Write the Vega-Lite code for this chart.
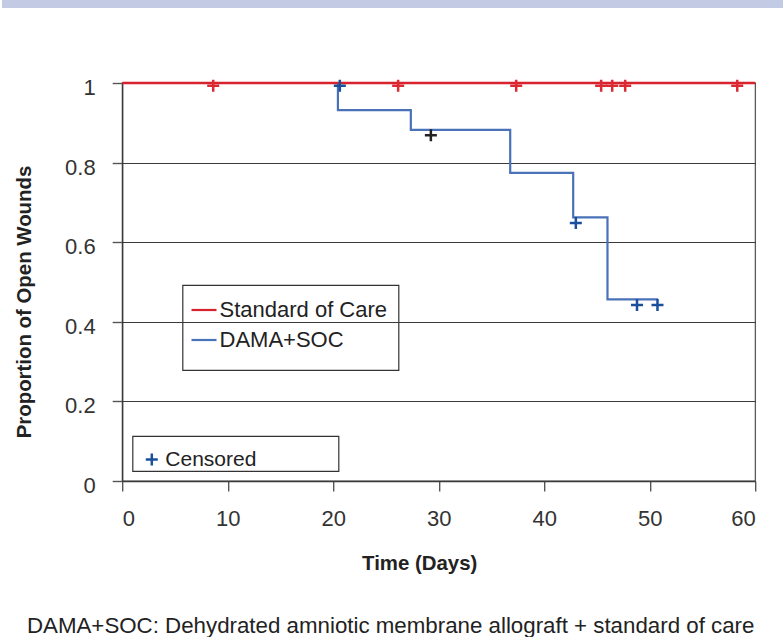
{
  "$schema": "https://vega.github.io/schema/vega-lite/v6.json",
  "padding": 0,
  "spacing": 66,
  "center": true,
  "background": "white",
  "config": {
    "font": "Liberation Sans",
    "axis": {
      "labelFont": "Liberation Sans",
      "titleFont": "Liberation Sans",
      "domainColor": "#3a3a3a",
      "domainWidth": 1.4,
      "tickColor": "#555555",
      "tickWidth": 1.4,
      "tickSize": 10,
      "gridColor": "#3a3a3a",
      "gridWidth": 1.2,
      "gridOpacity": 1,
      "labelColor": "#333333",
      "titleColor": "#222222",
      "labelFontSize": 22,
      "titleFontSize": 20.4,
      "titleFontWeight": "bold"
    },
    "legend": {
      "labelFont": "Liberation Sans",
      "titleFont": "Liberation Sans",
      "labelColor": "#222222",
      "strokeColor": "#333333",
      "strokeWidth": 1.2
    }
  },
  "datasets": {
    "curves": [
      {"group": "DAMA+SOC", "day": 0, "p": 1},
      {"group": "DAMA+SOC", "day": 20.45, "p": 0.932},
      {"group": "DAMA+SOC", "day": 27.36, "p": 0.882},
      {"group": "DAMA+SOC", "day": 36.78, "p": 0.774},
      {"group": "DAMA+SOC", "day": 42.75, "p": 0.6626},
      {"group": "DAMA+SOC", "day": 46.0, "p": 0.4565},
      {"group": "DAMA+SOC", "day": 50.8, "p": 0.4565},
      {"group": "Standard of Care", "day": 0, "p": 1},
      {"group": "Standard of Care", "day": 60, "p": 1}
    ],
    "censored": [
      {"group": "Standard of Care", "status": "Censored", "day": 8.63, "p": 0.993},
      {"group": "Standard of Care", "status": "Censored", "day": 26.16, "p": 0.993},
      {"group": "Standard of Care", "status": "Censored", "day": 37.35, "p": 0.993},
      {"group": "Standard of Care", "status": "Censored", "day": 45.4, "p": 0.993},
      {"group": "Standard of Care", "status": "Censored", "day": 46.45, "p": 0.993},
      {"group": "Standard of Care", "status": "Censored", "day": 47.68, "p": 0.993},
      {"group": "Standard of Care", "status": "Censored", "day": 58.3, "p": 0.993},
      {"group": "DAMA+SOC", "status": "Censored", "day": 20.63, "p": 0.993},
      {"group": "DAMA+SOC", "status": "Censored", "day": 29.26, "p": 0.869},
      {"group": "DAMA+SOC", "status": "Censored", "day": 43.0, "p": 0.648},
      {"group": "DAMA+SOC", "status": "Censored", "day": 48.8, "p": 0.442},
      {"group": "DAMA+SOC", "status": "Censored", "day": 50.74, "p": 0.442}
    ]
  },
  "vconcat": [
    {
      "width": 879,
      "height": 8,
      "view": {"stroke": null},
      "data": {"values": [{"band": "header"}]},
      "mark": {"type": "rect", "color": "#c3cae4"}
    },
    {
      "width": 633,
      "height": 398,
      "view": {"stroke": "#5a5a5a", "strokeWidth": 1.3},
      "title": {
        "text": "DAMA+SOC: Dehydrated amniotic membrane allograft + standard of care",
        "orient": "bottom",
        "anchor": "middle",
        "frame": "group",
        "dx": -48,
        "offset": 60,
        "baseline": "alphabetic",
        "font": "Liberation Sans",
        "fontSize": 22.3,
        "fontWeight": "normal",
        "color": "#222222"
      },
      "encoding": {
        "x": {
          "field": "day",
          "type": "quantitative",
          "scale": {"domain": [0, 60], "nice": false},
          "axis": {
            "values": [0, 10, 20, 30, 40, 50, 60],
            "grid": false,
            "title": "Time (Days)",
            "titleX": 297,
            "titleY": 88,
            "titleBaseline": "alphabetic",
            "labelBaseline": "alphabetic",
            "labelPadding": 34.5
          }
        },
        "y": {
          "field": "p",
          "type": "quantitative",
          "scale": {"domain": [0, 1], "nice": false},
          "axis": {
            "values": [0, 0.2, 0.4, 0.6, 0.8, 1],
            "format": "~g",
            "grid": true,
            "title": ["", "Proportion of Open Wounds"],
            "titleLineHeight": 13.5,
            "titleAngle": -90,
            "titleX": -111.5,
            "titleY": 218.5,
            "titleAlign": "center",
            "titleBaseline": "middle",
            "labelBaseline": "alphabetic",
            "labelOffset": 11.5,
            "labelPadding": 17
          }
        }
      },
      "layer": [
        {
          "data": {"name": "curves"},
          "transform": [{"filter": "datum.group === 'DAMA+SOC'"}],
          "mark": {"type": "line", "interpolate": "step-after", "strokeWidth": 2.2},
          "encoding": {
            "color": {
              "field": "group",
              "type": "nominal",
              "scale": {"domain": ["Standard of Care", "DAMA+SOC"], "range": ["#d8232e", "#4a72b8"]},
              "legend": {
                "orient": "none",
                "legendX": 180.5,
                "legendY": 285,
                "title": " ",
                "titleOrient": "bottom",
                "titleFontSize": 4,
                "titlePadding": 4,
                "padding": 11,
                "rowPadding": 5,
                "symbolType": "stroke",
                "symbolSize": 625,
                "symbolStrokeWidth": 2.2,
                "symbolOffset": -3.5,
                "labelFontSize": 22,
                "labelOffset": 1.5,
                "labelLimit": 400
              }
            }
          }
        },
        {
          "data": {"name": "curves"},
          "transform": [{"filter": "datum.group === 'Standard of Care'"}],
          "mark": {"type": "line", "interpolate": "step-after", "strokeWidth": 2.5},
          "encoding": {
            "color": {"field": "group", "type": "nominal"}
          }
        },
        {
          "data": {"name": "censored"},
          "mark": {"type": "point", "filled": false, "size": 144, "strokeWidth": 2.5, "opacity": 1},
          "encoding": {
            "stroke": {
              "condition": {"test": "datum.day === 29.26", "value": "#222222"},
              "field": "group",
              "type": "nominal",
              "scale": {"domain": ["Standard of Care", "DAMA+SOC"], "range": ["#dc2a33", "#1a4f9c"]},
              "legend": null
            },
            "shape": {
              "field": "status",
              "type": "nominal",
              "scale": {"domain": ["Censored"], "range": ["M-1,0H1M0,-1V1"]},
              "legend": {
                "orient": "none",
                "legendX": 130.5,
                "legendY": 436,
                "title": " ",
                "titleFontSize": 10,
                "titlePadding": 2.5,
                "padding": 0.5,
                "symbolOffset": 8.3,
                "symbolSize": 144,
                "symbolStrokeWidth": 2.5,
                "symbolStrokeColor": "#1a4f9c",
                "symbolFillColor": "transparent",
                "labelFontSize": 21,
                "labelOffset": 3,
                "labelLimit": 400,
                "labelExpr": "datum.label + '\u00a0\u2800\u2800\u2800\u2800\u2800'"
              }
            }
          }
        }
      ]
    }
  ]
}
